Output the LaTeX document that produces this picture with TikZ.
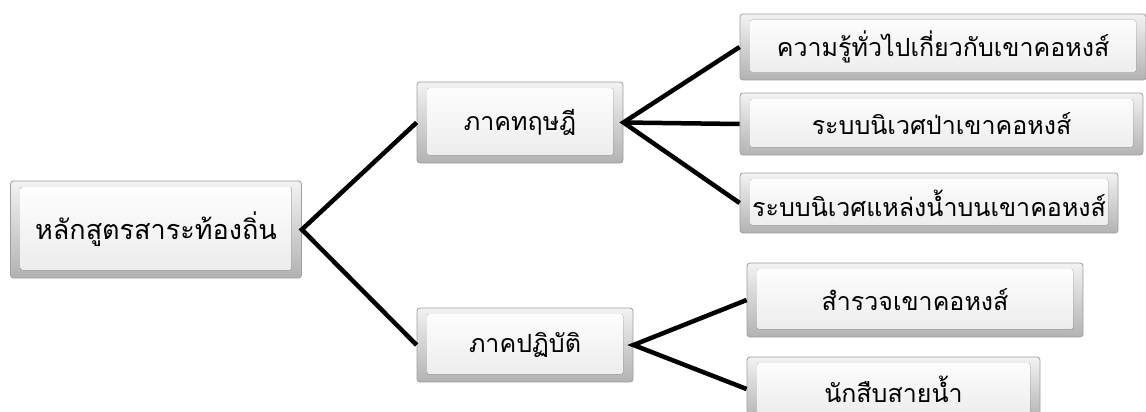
\documentclass[tikz,border=0pt]{standalone}
\usepackage{fontspec}
\newfontfamily\thaifont[Script=Thai]{Loma}
\usepackage{tikz}

\begin{document}
\begin{tikzpicture}[x=1pt,y=-1pt,
    bevel/.style={rectangle, rounded corners=3pt, draw=gray!75, line width=0.8pt,
      top color=gray!10, bottom color=gray!60, inner sep=0pt,
      font=\thaifont\fontsize{25}{28}\selectfont,
      path picture={\fill[top color=white, bottom color=gray!16, rounded corners=2pt]
        ([shift={(10pt,-6pt)}]path picture bounding box.north west) rectangle
        ([shift={(-10pt,8pt)}]path picture bounding box.south east);}},
    link/.style={line width=4.5pt, black, line join=miter}]
                % Fix the frame of the picture
                \useasboundingbox (0,0) rectangle (1146,412);
                \clip (0,0) rectangle (1146,412);
                % Draw the boxes
                \node[bevel, minimum width=291pt, minimum height=97pt,
                    font=\thaifont\fontsize{27}{30}\selectfont] (root) at (156,229.5) {หลักสูตรสาระท้องถิ่น};
                \node[bevel, minimum width=206pt, minimum height=81pt] (theory) at (520,122.5) {ภาคทฤษฎี};
                \node[bevel, minimum width=216pt, minimum height=74pt] (practice) at (525,345) {ภาคปฏิบัติ};
                \node[bevel, minimum width=406pt, minimum height=66pt] (know) at (943,47) {ความรู้ทั่วไปเกี่ยวกับเขาคอหงส์};
                \node[bevel, minimum width=403pt, minimum height=62pt] (forest) at (941.5,124) {ระบบนิเวศป่าเขาคอหงส์};
                \node[bevel, minimum width=378pt, minimum height=60pt] (water) at (929,203) {ระบบนิเวศแหล่งน้ำบนเขาคอหงส์};
                \node[bevel, minimum width=336pt, minimum height=74pt] (survey) at (915,300) {สำรวจเขาคอหงส์};
                \node[bevel, minimum width=293pt, minimum height=64pt] (detect) at (893.5,389) {นักสืบสายน้ำ};
                % Draw the links
                \draw[link] (theory.west) -- (root.east) -- (practice.west);
                \draw[link] (know.west) -- (theory.east) -- (water.west);
                \draw[link] (theory.east) -- (forest.west);
                \draw[link] (survey.west) -- (practice.east) -- (detect.west);
            \end{tikzpicture}
\end{document}
